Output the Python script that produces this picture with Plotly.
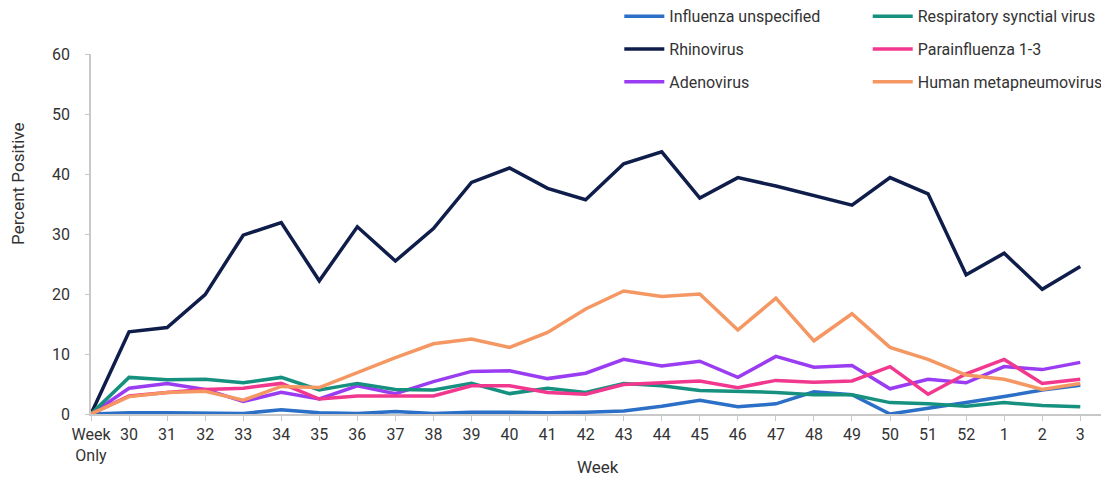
import plotly.graph_objects as go

weeks = ["Week<br>Only"] + [str(w) for w in range(30, 53)] + ["1", "2", "3"]

influenza_unspecified = [0, 0.2, 0.2, 0.1, 0.1, 0.7, 0.2, 0.1, 0.4, 0.1, 0.3, 0.3, 0.2, 0.3,
                         0.5, 1.3, 2.3, 1.2, 1.7, 3.7, 3.2, 0.0, 0.9, 1.9, 2.9, 4.0, 4.8]
rsv = [0, 6.1, 5.7, 5.8, 5.2, 6.1, 4.0, 5.1, 4.1, 4.0, 5.1, 3.4, 4.3, 3.6,
       5.1, 4.7, 3.9, 3.7, 3.6, 3.2, 3.2, 1.9, 1.7, 1.3, 1.9, 1.4, 1.2]
rhinovirus = [0, 13.7, 14.4, 19.9, 29.8, 31.9, 22.2, 31.2, 25.5, 30.9, 38.6, 41.0, 37.6, 35.7,
              41.7, 43.7, 36.0, 39.4, 38.0, 36.4, 34.8, 39.4, 36.7, 23.2, 26.8, 20.8, 24.6]
parainfluenza = [0, 3.0, 3.6, 4.1, 4.3, 5.1, 2.5, 3.0, 3.0, 3.0, 4.7, 4.7, 3.6, 3.3,
                 4.9, 5.2, 5.5, 4.4, 5.6, 5.3, 5.5, 7.9, 3.3, 6.7, 9.1, 5.1, 5.8]
adenovirus = [0, 4.3, 5.1, 4.1, 2.1, 3.6, 2.5, 4.7, 3.4, 5.4, 7.1, 7.2, 5.9, 6.8,
              9.1, 8.0, 8.8, 6.1, 9.6, 7.8, 8.1, 4.2, 5.8, 5.2, 7.9, 7.4, 8.6]
hmpv = [0, 2.9, 3.6, 3.8, 2.3, 4.6, 4.4, 6.9, 9.4, 11.7, 12.5, 11.1, 13.6, 17.5,
        20.5, 19.6, 20.0, 14.0, 19.3, 12.2, 16.7, 11.1, 9.1, 6.5, 5.8, 4.1, 5.1]

series = [
    ("Influenza unspecified", influenza_unspecified, "#2b6fc6", "legend"),
    ("Rhinovirus", rhinovirus, "#0f1d4a", "legend"),
    ("Adenovirus", adenovirus, "#9a3df2", "legend"),
    ("Respiratory synctial virus", rsv, "#16917f", "legend2"),
    ("Parainfluenza 1-3", parainfluenza, "#f1388e", "legend2"),
    ("Human metapneumovirus", hmpv, "#f59762", "legend2"),
]

fig = go.Figure()
for name, vals, color, lg in series:
    fig.add_trace(go.Scatter(
        x=weeks, y=vals, name=name, mode="lines",
        line=dict(color=color, width=3.5),
        legend=lg, legendgroup=name,
    ))

font_family = "Roboto, 'Liberation Sans', sans-serif"
narrow = "'Liberation Sans Narrow', 'Roboto', sans-serif"
legend_common = dict(yanchor="top", xanchor="left", bgcolor="rgba(0,0,0,0)",
                     tracegroupgap=9, itemwidth=40,
                     font=dict(size=16, color="#333333"))
fig.update_layout(
    width=1101, height=470,
    margin=dict(l=83, r=4, t=46, b=64, autoexpand=False),
    paper_bgcolor="white", plot_bgcolor="white",
    font=dict(family=font_family, size=14, color="#333333"),
    showlegend=True,
    legend=dict(x=0.521, y=1.152, **legend_common),
    legend2=dict(x=0.766, y=1.152, **legend_common),
    xaxis=dict(
        type="category", categoryorder="array", categoryarray=weeks,
        range=[0, 26.65],
        showgrid=False, showline=True, linecolor="#c8c8c8", linewidth=1.5,
        ticks="outside", ticklen=5, tickcolor="#c8c8c8",
        tickfont=dict(size=16, color="#333333", family=narrow),
    ),
    yaxis=dict(
        range=[0, 60], dtick=10, showgrid=False, zeroline=False,
        showline=True, linecolor="#c8c8c8", linewidth=1.5,
        ticks="outside", ticklen=4, tickcolor="#c8c8c8",
        ticklabelstandoff=12,
        tickfont=dict(size=16, color="#333333", family=narrow),
    ),
    annotations=[
        dict(text="Percent Positive", textangle=-90, xref="paper", yref="paper",
             x=-0.072, y=0.639, xanchor="center", yanchor="middle", showarrow=False,
             font=dict(size=17, color="#333333")),
        dict(text="Week", xref="paper", yref="paper",
             x=0.5, y=-0.147, xanchor="center", yanchor="middle", showarrow=False,
             font=dict(size=17, color="#333333")),
    ],
)

fig.write_html("out.html")
